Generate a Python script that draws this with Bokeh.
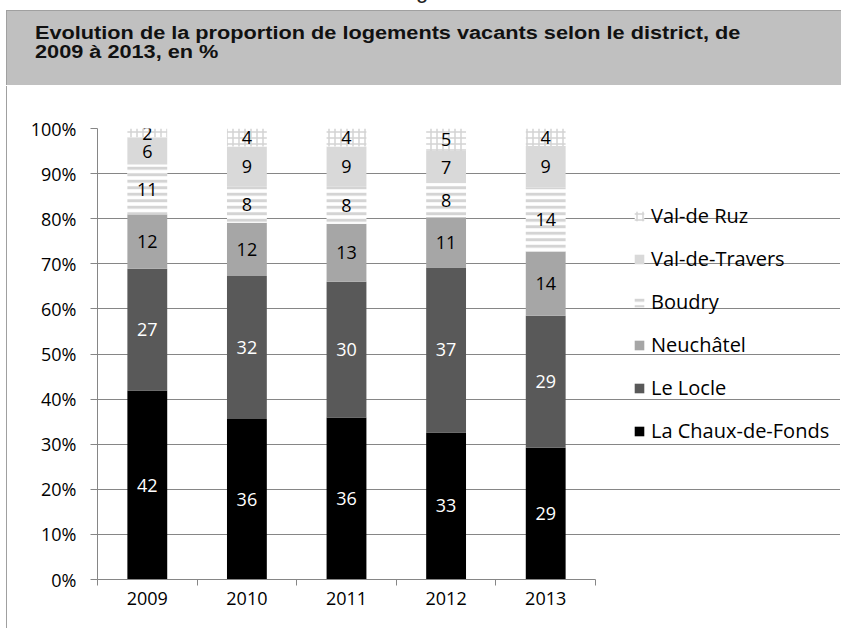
import numpy as np
from bokeh.plotting import figure
from bokeh.layouts import column
from bokeh.models import (ColumnDataSource, LabelSet, Legend, LegendItem, FixedTicker,
                          PrintfTickFormatter, LinearAxis, Range1d, Div)
from bokeh.core.properties import value
from bokeh.transform import stack
from bokeh.embed import file_html
from bokeh.resources import INLINE

# ---------------- data ----------------
years = ["2009", "2010", "2011", "2012", "2013"]
chaux = [41.9, 35.6, 35.9, 32.6, 29.2]      # La Chaux-de-Fonds
locle = [27.0, 31.7, 30.1, 36.6, 29.3]      # Le Locle
neuch = [12.1, 11.8, 12.9, 11.1, 14.2]      # Neuchâtel
boudry = [11.0, 8.0, 8.2, 7.6, 14.2]        # Boudry
travers = [6.0, 8.9, 8.9, 7.1, 9.2]         # Val-de-Travers
ruz = [2.0, 4.0, 4.0, 5.0, 3.9]             # Val-de-Ruz
series_names = ["La Chaux-de-Fonds", "Le Locle", "Neuchâtel", "Boudry", "Val-de-Travers", "Val-de Ruz"]
y_ticks = [0, 10, 20, 30, 40, 50, 60, 70, 80, 90, 100]
title_1 = "Evolution de la proportion de logements vacants selon le district, de"
title_2 = "2009 à 2013, en %"

keys = ["chaux", "locle", "neuch", "boudry", "travers", "ruz"]
series = [chaux, locle, neuch, boudry, travers, ruz]
n = len(years)
xpos = [i + 0.5 for i in range(n)]          # category centres on a 0..n axis
data = {"x": xpos, "years": years}
for k, s in zip(keys, series):
    data[k] = s
source = ColumnDataSource(data)

FONT = "Open Sans"
HEADER_H = 86
W, H = 834, 628 - HEADER_H
LEFT, TOP, BOTTOM = 90, 42, 49
PLOT_W = 498                       # width used by the five categories (px)
FRAME_W = W - LEFT                 # frame extends under the legend area
x_end = n * FRAME_W / PLOT_W       # so that categories occupy PLOT_W px

# ---------------- header (grey box with title) ----------------
header_html = f"""
<div style="position:relative;width:841px;height:{HEADER_H}px;overflow:hidden;margin:0;padding:0;">
  <div style="position:absolute;left:416px;top:-21px;font-family:'Liberation Sans';font-size:22px;
              line-height:24px;color:#222;">g</div>
  <div style="position:absolute;left:6px;top:10px;width:840px;height:75px;background:#c0c0c0;
              border-top:1px solid #a0a0a0;border-left:1px solid #a0a0a0;"></div>
  <div style="position:absolute;left:35px;top:24px;font-family:'Liberation Sans';font-weight:bold;
              font-size:17.5px;line-height:19px;color:#111;white-space:nowrap;
              transform:scaleX(1.24);transform-origin:0 0;">{title_1}<br>{title_2}</div>
</div>
"""
header = Div(text=header_html, width=841, height=HEADER_H, margin=0)

# ---------------- chart ----------------
p = figure(width=W, height=H, x_range=Range1d(0, x_end), y_range=(0, 100),
           output_backend="svg", toolbar_location=None, x_axis_location=None,
           min_border_left=LEFT, min_border_right=0,
           min_border_top=TOP, min_border_bottom=BOTTOM,
           margin=(0, 0, 0, 6), styles={"border-left": "1px solid #a0a0a0"})
p.outline_line_color = None
p.background_fill_color = "white"
p.border_fill_color = "white"

fills = ["#000000", "#595959", "#a6a6a6", "white", "#d9d9d9", "white"]
hatches = [None, None, None, "horizontal_line", None, "cross"]
hscale = [12, 12, 12, 6.5, 12, 6]
hweight = [1, 1, 1, 3, 1, 1.5]

renderers = []
for i, k in enumerate(keys):
    kw = dict(fill_color=fills[i], line_color=None)
    if hatches[i]:
        kw.update(hatch_pattern=hatches[i], hatch_color="#d4d4d4",
                  hatch_scale=hscale[i], hatch_weight=hweight[i])
    r = p.vbar(x="x", bottom=stack(*keys[:i]) if i else 0, top=stack(*keys[:i + 1]),
               width=0.4, source=source, **kw)
    renderers.append(r)

# data labels
arr = np.array(series)
cum = np.cumsum(arr, axis=0)
mid = cum - arr / 2.0
lx, ly, lt, lc = [], [], [], []
txt_colors = ["white", "white", "black", "black", "black", "black"]
for i in range(len(keys)):
    for j in range(n):
        lx.append(xpos[j])
        ly.append(float(mid[i, j]))
        lt.append(str(int(np.floor(arr[i, j] + 0.5))))
        lc.append(txt_colors[i])
lsrc = ColumnDataSource(dict(x=lx, y=ly, t=lt, c=lc))
p.add_layout(LabelSet(x="x", y="y", text="t", source=lsrc, text_color="c",
                      text_align="center", text_baseline="middle",
                      text_font=value(FONT), text_font_size="18px"))

# grid / y axis
p.xgrid.grid_line_color = None
p.ygrid.grid_line_color = "#868686"
p.ygrid.ticker = FixedTicker(ticks=y_ticks)
p.ygrid.bounds = (0, n)
ya = p.yaxis[0]
ya.ticker = FixedTicker(ticks=y_ticks)
ya.formatter = PrintfTickFormatter(format="%d%%")
ya.axis_line_color = "#868686"
ya.major_tick_line_color = "#868686"
ya.major_tick_out = 7
ya.major_tick_in = 0
ya.minor_tick_line_color = None
ya.major_label_standoff = 14
ya.major_label_text_font = FONT
ya.major_label_text_font_size = "18px"
ya.major_label_text_color = "black"

# x axis: boundary ticks (no labels) + category labels
tick_axis = LinearAxis(ticker=FixedTicker(ticks=list(range(n + 1))), bounds=(0, n),
                       major_label_overrides={i: "" for i in range(n + 1)},
                       major_label_text_font_size="1px", major_label_standoff=0,
                       major_tick_out=6, major_tick_in=0, minor_tick_line_color=None,
                       axis_line_color="#868686", major_tick_line_color="#868686")
p.add_layout(tick_axis, "below")
cat_axis = LinearAxis(ticker=FixedTicker(ticks=xpos), bounds=(0, n),
                      major_label_overrides={xv: yr for xv, yr in zip(xpos, years)},
                      axis_line_color=None, major_tick_line_color=None, minor_tick_line_color=None,
                      major_tick_out=0, major_tick_in=0,
                      major_label_standoff=6, major_label_text_font=FONT,
                      major_label_text_font_size="18px", major_label_text_color="black")
p.add_layout(cat_axis, "below")

# legend (reverse order), to the right of the bars
items = [LegendItem(label=series_names[i], renderers=[renderers[i]]) for i in reversed(range(len(keys)))]
legend = Legend(items=items, location=(536, 127), orientation="vertical",
                label_text_font=FONT, label_text_font_size="20px", label_text_color="black",
                glyph_width=12, glyph_height=12, label_height=43, label_standoff=6,
                spacing=0, padding=0, margin=0,
                border_line_color=None, background_fill_alpha=0)
p.add_layout(legend)

layout = column(header, p, spacing=0, margin=0)
open("out.html", "w").write(file_html(layout, INLINE))
